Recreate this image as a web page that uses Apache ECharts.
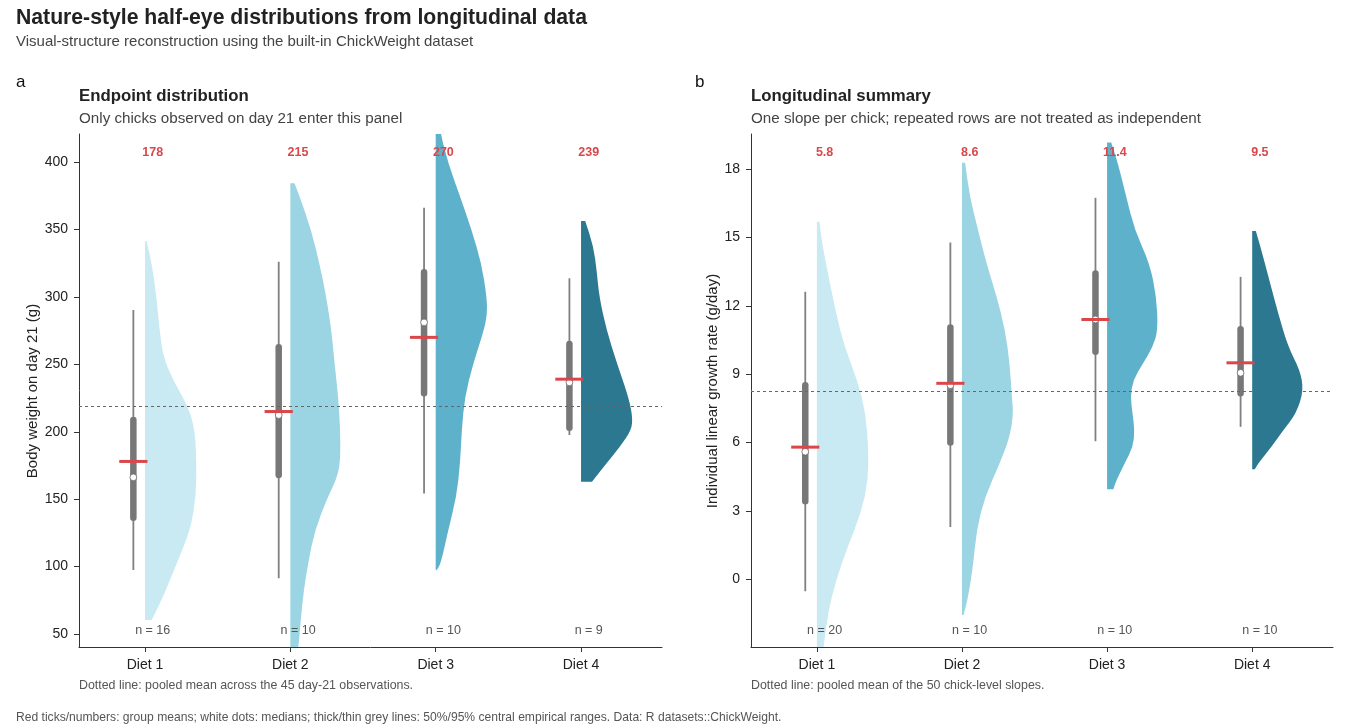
<!DOCTYPE html>
<html><head><meta charset="utf-8">
<script src="https://cdn.jsdelivr.net/npm/echarts@6/dist/echarts.min.js"></script>
<style>html,body{margin:0;padding:0;background:#fff}#c{width:1349px;height:728px}</style>
</head><body><div id="c"></div>
<script>
// ---------- data ----------
const categories = ['Diet 1', 'Diet 2', 'Diet 3', 'Diet 4'];

// Panel a: body weight on day 21 (g)
const weightTicks = [50, 100, 150, 200, 250, 300, 350, 400];
const weightN = [16, 10, 10, 9];
const weightMean = [178, 215, 270, 239];
const weightMedian = [166.2, 212.4, 281.1, 236.6];
const weightQ50 = [[136.3, 208.7], [167.9, 262.6], [228.5, 318.2], [203.0, 265.0]];
const weightQ95 = [[97.5, 290.3], [91.3, 326.1], [154.3, 366.1], [197.6, 313.8]];
const weightPooledMean = 218.9;
// density outlines: [value, relative density]
const weightDensity = [
  [[341.4,0.03],[324.9,0.13],[300.1,0.22],[275.4,0.28],[255.6,0.35],[238.3,0.54],[218.6,0.83],[201.3,0.96],[176.6,0.99],[151.8,0.98],[127.1,0.87],[102.4,0.61],[77.7,0.35],[60.4,0.13]],
  [[384.2,0.08],[374.3,0.18],[349.6,0.40],[324.9,0.56],[300.1,0.69],[275.4,0.79],[250.7,0.85],[226.0,0.92],[201.3,0.96],[176.6,0.96],[164.2,0.88],[151.8,0.72],[127.1,0.47],[102.4,0.34],[77.7,0.24],[38.0,0.15],[30.0,0.12]],
  [[430.0,0.07],[420.2,0.10],[399.0,0.24],[374.3,0.47],[349.6,0.69],[324.9,0.88],[300.1,0.98],[287.8,0.99],[275.4,0.93],[250.7,0.72],[226.0,0.56],[201.3,0.50],[176.6,0.47],[151.8,0.40],[127.1,0.24],[102.4,0.10],[97.5,0.02]],
  [[356.3,0.08],[337.2,0.24],[319.9,0.30],[300.1,0.35],[275.4,0.49],[250.7,0.69],[226.0,0.91],[211.2,0.99],[201.3,0.97],[188.9,0.75],[176.6,0.49],[163.0,0.21]]
];

// Panel b: individual linear growth rate (g/day)
const slopeTicks = [0, 3, 6, 9, 12, 15, 18];
const slopeN = [20, 10, 10, 10];
const slopeMean = [5.8, 8.6, 11.4, 9.5];
const slopeMedian = [5.6, 8.52, 11.4, 9.06];
const slopeQ50 = [[3.43, 8.52], [6.0, 11.05], [9.99, 13.42], [8.16, 10.97]];
const slopeQ95 = [[-0.52, 12.62], [2.3, 14.78], [6.06, 16.74], [6.69, 13.27]];
const slopePooledMean = 8.24;
const slopeDensity = [
  [[15.69,0.05],[14.59,0.11],[13.13,0.24],[11.67,0.37],[10.2,0.53],[8.74,0.78],[7.28,0.94],[5.81,0.99],[4.35,0.99],[2.89,0.85],[1.42,0.59],[-0.03,0.37],[-1.5,0.21],[-2.96,0.13],[-3.5,0.10]],
  [[18.28,0.06],[16.78,0.15],[15.32,0.31],[13.86,0.47],[12.4,0.67],[10.94,0.83],[9.47,0.92],[8.01,0.96],[7.28,0.99],[6.25,0.92],[5.09,0.73],[3.62,0.44],[2.16,0.28],[0.69,0.22],[-0.77,0.12],[-1.57,0.03]],
  [[19.17,0.08],[18.25,0.21],[16.78,0.37],[15.32,0.53],[13.86,0.82],[12.4,0.95],[10.94,0.98],[10.2,0.88],[9.47,0.69],[8.74,0.50],[8.01,0.45],[7.28,0.49],[6.55,0.53],[5.81,0.50],[5.09,0.34],[4.35,0.18],[3.95,0.12]],
  [[15.28,0.07],[14.59,0.16],[13.13,0.33],[11.67,0.50],[10.2,0.69],[9.18,0.92],[8.3,0.99],[7.28,0.85],[6.55,0.60],[5.81,0.37],[5.09,0.12],[4.83,0.05]]
];

// ---------- style ----------
const slabColors = ['#c9eaf2', '#9bd5e3', '#5eb1cb', '#2c7891'];
const FONT = '"Liberation Sans", Arial, Helvetica, sans-serif';
const SLAB_W = 0.358;      // max half-eye width in x units
const INT_OFF = -0.08;     // interval offset from category position
const MEAN_HALF = 0.097;
const LAB_OFF = 0.053;

const chart = echarts.init(document.getElementById('c'), null, {renderer: 'canvas'});

function f(v) { return v.toFixed(2); }

function slabSeries(gridIdx, dens) {
  return {
    type: 'custom', xAxisIndex: gridIdx, yAxisIndex: gridIdx, clip: true, z: 2,
    data: categories.map((c, i) => [i + 1]),
    renderItem: function (params, api) {
      const x0 = api.value(0);
      const d = dens[params.dataIndex];
      const P = d.map(p => api.coord([x0 + p[1] * SLAB_W, p[0]]));
      const b0 = api.coord([x0, d[0][0]]);
      const b1 = api.coord([x0, d[d.length - 1][0]]);
      let path = 'M' + f(b0[0]) + ' ' + f(b0[1]) + 'L' + f(P[0][0]) + ' ' + f(P[0][1]);
      if (P.length > 2) {
        let m = [(P[0][0] + P[1][0]) / 2, (P[0][1] + P[1][1]) / 2];
        path += 'L' + f(m[0]) + ' ' + f(m[1]);
        for (let k = 1; k < P.length - 1; k++) {
          m = [(P[k][0] + P[k + 1][0]) / 2, (P[k][1] + P[k + 1][1]) / 2];
          path += 'Q' + f(P[k][0]) + ' ' + f(P[k][1]) + ' ' + f(m[0]) + ' ' + f(m[1]);
        }
      }
      const last = P[P.length - 1];
      path += 'L' + f(last[0]) + ' ' + f(last[1]) + 'L' + f(b1[0]) + ' ' + f(b1[1]) + 'Z';
      return {type: 'path', shape: {pathData: path},
        style: {fill: slabColors[params.dataIndex], stroke: null}};
    }
  };
}

function intervalSeries(gridIdx, q95, q50, med, mean) {
  return {
    type: 'custom', xAxisIndex: gridIdx, yAxisIndex: gridIdx, clip: false, z: 4,
    data: categories.map((c, i) => [i + 1 + INT_OFF, q95[i][0], q95[i][1], q50[i][0], q50[i][1], med[i], mean[i]]),
    renderItem: function (params, api) {
      const x = api.value(0);
      const a = api.coord([x, api.value(1)]), b = api.coord([x, api.value(2)]);
      const c = api.coord([x, api.value(3)]), e = api.coord([x, api.value(4)]);
      const m = api.coord([x, api.value(5)]);
      const ml = api.coord([x - MEAN_HALF, api.value(6)]), mr = api.coord([x + MEAN_HALF, api.value(6)]);
      return {type: 'group', children: [
        {type: 'line', shape: {x1: a[0], y1: a[1], x2: b[0], y2: b[1]}, style: {stroke: '#808080', lineWidth: 1.8}},
        {type: 'line', shape: {x1: c[0], y1: c[1], x2: e[0], y2: e[1]}, style: {stroke: '#777777', lineWidth: 6.5, lineCap: 'round'}},
        {type: 'circle', shape: {cx: m[0], cy: m[1], r: 3.4}, style: {fill: '#ffffff', stroke: '#6a6a6a', lineWidth: 0.8}},
        {type: 'line', shape: {x1: ml[0], y1: ml[1], x2: mr[0], y2: mr[1]}, style: {stroke: '#d9474b', lineWidth: 3}}
      ]};
    }
  };
}

function labelSeries(gridIdx, mean, n, dec, yMin, yMax, pooled) {
  return {
    type: 'custom', xAxisIndex: gridIdx, yAxisIndex: gridIdx, clip: false, z: 6,
    data: categories.map((c, i) => [i + 1 + LAB_OFF, mean[i], n[i]]),
    renderItem: function (params, api) {
      const x = api.value(0);
      const top = api.coord([x, yMax]), bot = api.coord([x, yMin]);
      return {type: 'group', children: [
        {type: 'text', x: top[0], y: top[1] + 19, style: {text: api.value(1).toFixed(dec), fill: '#d9474b',
          font: 'bold 12.5px ' + FONT, align: 'center', verticalAlign: 'middle'}},
        {type: 'text', x: bot[0], y: bot[1] - 16, style: {text: 'n = ' + api.value(2), fill: '#555555',
          font: '12.5px ' + FONT, align: 'center', verticalAlign: 'middle'}}
      ]};
    },
    markLine: {silent: true, symbol: 'none', label: {show: false}, z: 7,
      lineStyle: {type: [3, 3], color: '#666666', width: 1},
      data: [{yAxis: pooled}]}
  };
}

function xAxisCfg(gridIdx) {
  return {
    gridIndex: gridIdx, type: 'value', min: 0.546, max: 4.557,
    splitLine: {show: false},
    axisLine: {show: true, onZero: false, lineStyle: {color: '#333333', width: 1}},
    axisTick: {show: true, customValues: [1, 2, 3, 4], length: 5, lineStyle: {color: '#333333'}},
    axisLabel: {show: true, customValues: [1, 2, 3, 4], formatter: v => categories[Math.round(v) - 1],
      color: '#222222', fontSize: 14, fontFamily: FONT, margin: 11}
  };
}
function yAxisCfg(gridIdx, min, max, ticks) {
  return {
    gridIndex: gridIdx, type: 'value', min: min, max: max,
    splitLine: {show: false},
    axisLine: {show: true, onZero: false, lineStyle: {color: '#333333', width: 1}},
    axisTick: {show: true, customValues: ticks, length: 5, lineStyle: {color: '#333333'}},
    axisLabel: {show: true, customValues: ticks, color: '#222222', fontSize: 14, fontFamily: FONT, margin: 11}
  };
}

function txt(x, y, s, font, color, extra) {
  return Object.assign({type: 'text', x: x, y: y, silent: true,
    style: Object.assign({text: s, font: font, fill: color, align: 'left', verticalAlign: 'middle'}, extra || {})});
}

const option = {
  animation: false,
  backgroundColor: '#ffffff',
  grid: [
    {left: 79, right: 687, top: 134, bottom: 81},
    {left: 751, right: 16, top: 134, bottom: 81}
  ],
  xAxis: [xAxisCfg(0), xAxisCfg(1)],
  yAxis: [yAxisCfg(0, 40.4, 420.8, weightTicks), yAxisCfg(1, -2.97, 19.54, slopeTicks)],
  series: [
    slabSeries(0, weightDensity),
    intervalSeries(0, weightQ95, weightQ50, weightMedian, weightMean),
    labelSeries(0, weightMean, weightN, 0, 40.4, 420.8, weightPooledMean),
    slabSeries(1, slopeDensity),
    intervalSeries(1, slopeQ95, slopeQ50, slopeMedian, slopeMean),
    labelSeries(1, slopeMean, slopeN, 1, -2.97, 19.54, slopePooledMean)
  ],
  graphic: [
    txt(16, 18, 'Nature-style half-eye distributions from longitudinal data', 'bold 21.2px ' + FONT, '#222222'),
    txt(16, 42, 'Visual-structure reconstruction using the built-in ChickWeight dataset', '15px ' + FONT, '#444444'),
    txt(16, 82, 'a', '17px ' + FONT, '#111111'),
    txt(695, 82, 'b', '17px ' + FONT, '#111111'),
    txt(79, 96, 'Endpoint distribution', 'bold 16.8px ' + FONT, '#222222'),
    txt(79, 119, 'Only chicks observed on day 21 enter this panel', '15.2px ' + FONT, '#444444'),
    txt(751, 96, 'Longitudinal summary', 'bold 16.8px ' + FONT, '#222222'),
    txt(751, 119, 'One slope per chick; repeated rows are not treated as independent', '15.2px ' + FONT, '#444444'),
    Object.assign(txt(33, 391, 'Body weight on day 21 (g)', '15px ' + FONT, '#222222', {align: 'center'}), {rotation: Math.PI / 2}),
    Object.assign(txt(713, 391, 'Individual linear growth rate (g/day)', '15px ' + FONT, '#222222', {align: 'center'}), {rotation: Math.PI / 2}),
    txt(79, 686, 'Dotted line: pooled mean across the 45 day-21 observations.', '12.4px ' + FONT, '#555555'),
    txt(751, 686, 'Dotted line: pooled mean of the 50 chick-level slopes.', '12.4px ' + FONT, '#555555'),
    txt(16, 718, 'Red ticks/numbers: group means; white dots: medians; thick/thin grey lines: 50%/95% central empirical ranges. Data: R datasets::ChickWeight.', '12.1px ' + FONT, '#555555')
  ]
};
chart.setOption(option);
</script></body></html>
